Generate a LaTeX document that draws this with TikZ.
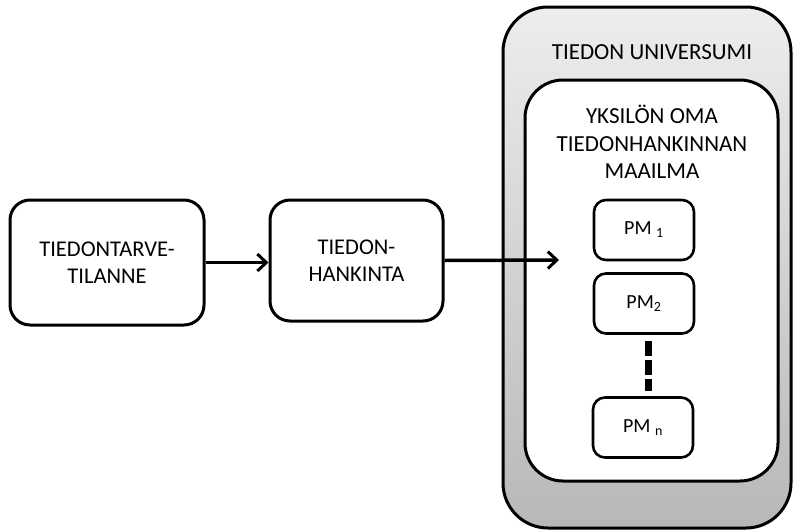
\documentclass[tikz,border=0pt]{standalone}
\usepackage{fontspec}
\setmainfont{Carlito}
\usetikzlibrary{arrows.meta}

\begin{document}
\begin{tikzpicture}[x=1pt,y=-1pt,
		tbox/.style={draw,line width=3pt,rounded corners=20pt,fill=white,align=center,
			font=\fontsize{22.5}{27.5}\selectfont,inner sep=0pt},
		pmbox/.style={draw,line width=2.6pt,rounded corners=12pt,fill=white,
			minimum width=100pt,minimum height=60pt,font=\fontsize{20}{24}\selectfont},
		flow/.style={line width=3.5pt,-{Straight Barb[length=9pt,width=17pt,line width=3pt]}}]
		\useasboundingbox (0,0) rectangle (795,530);
		
		\node (univ) at (647,267.5) [draw,line width=3pt,rounded corners=45pt,
			top color=black!7,bottom color=black!28,minimum width=288pt,minimum height=521pt] {};
		\node (univtxt) at (652,52) [font=\fontsize{23}{27}\selectfont] {TIEDON UNIVERSUMI};
		\node (world) at (651.5,280.5) [draw,line width=3pt,rounded corners=38pt,fill=white,
			minimum width=253pt,minimum height=401pt] {};
		\node (worldtxt) at (652,142) [align=center,font=\fontsize{23}{27.5}\selectfont]
			{YKSILÖN OMA\\TIEDONHANKINNAN\\MAAILMA};
		
		\node (need) at (107,262.5) [tbox,minimum width=194pt,minimum height=125pt] {TIEDONTARVE-\\TILANNE};
		\node (seek) at (356.5,260.5) [tbox,minimum width=173pt,minimum height=121pt] {TIEDON-\\HANKINTA};
		
		\node (pm1) at (644,230) [pmbox] {PM \textsubscript{1}};
		\node (pm2) at (644,303.5) [pmbox] {PM\textsubscript{2}};
		\node (pmn) at (643,427.5) [pmbox] {PM \textsubscript{n}};
		
		\coordinate (tip) at (559,260);
		
		\draw[flow] (need.east) -- (need.east -| seek.west);
		\draw[flow] (seek.east) -- (tip);
		\draw[line width=7pt,dash pattern=on 15pt off 4pt,shorten <=6pt,shorten >=5pt]
			(pm2.south -| 648,0) -- (pmn.north -| 648,0);
	\end{tikzpicture}
\end{document}
